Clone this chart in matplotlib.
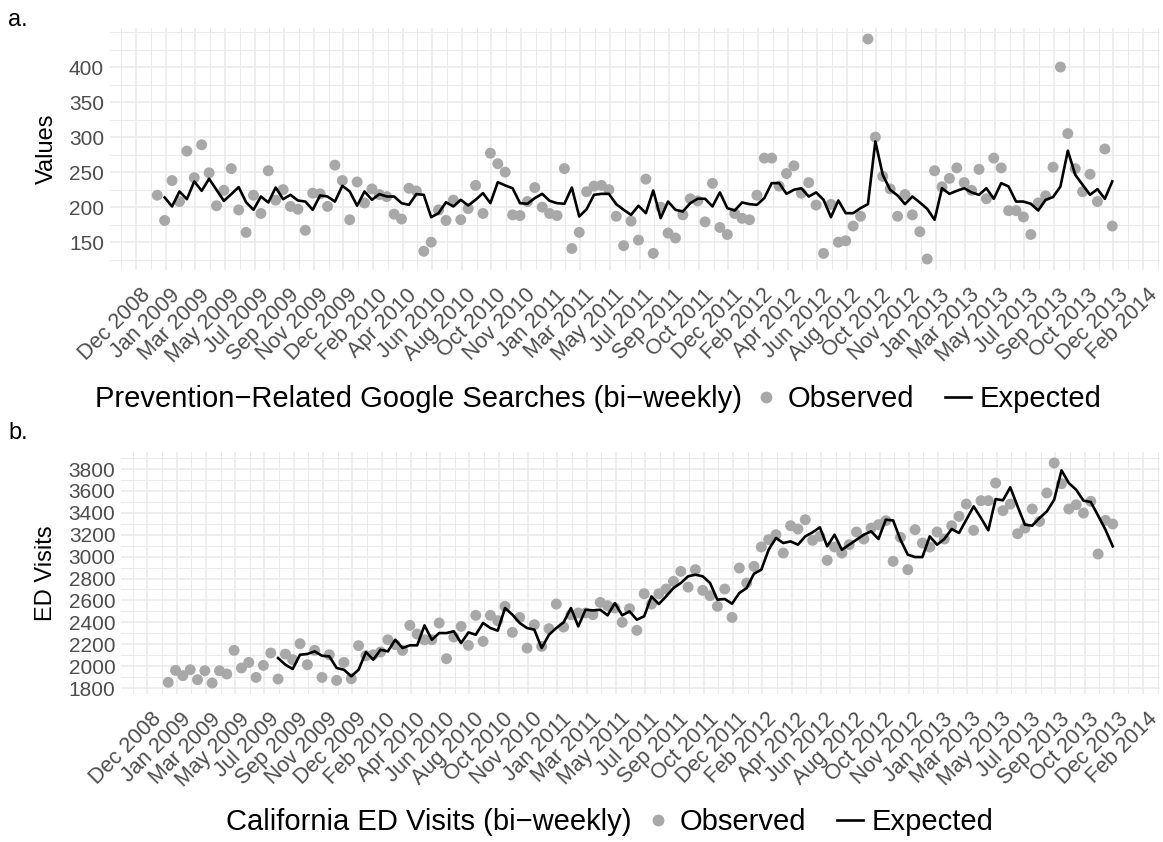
import datetime as dt
import numpy as np
import matplotlib
matplotlib.use("Agg")
import matplotlib.pyplot as plt
import matplotlib.dates as mdates
from matplotlib.lines import Line2D
from matplotlib.ticker import MultipleLocator, FixedLocator
import matplotlib.transforms as mtrans

plt.rcParams['font.family'] = ['Liberation Sans', 'DejaVu Sans']

# ---------------- data ----------------
start_date = dt.date(2009, 1, 10)
n_points = 130
dates = [start_date + dt.timedelta(days=14 * i) for i in range(n_points)]

google_observed = [217, 181, 238, 208, 280, 242, 289, 249, 202, 224, 255, 196, 164, 217, 191, 252, 210, 225, 201, 197,
                   167, 220, 219, 201, 260, 238, 182, 236, 206, 226, 218, 215, 190, 183, 227, 223, 137, 150, 196, 181,
                   210, 182, 198, 231, 191, 277, 262, 250, 189, 188, 208, 228, 200, 191, 188, 255, 141, 164, 222, 230,
                   231, 225, 187, 145, 180, 153, 240, 134, 200, 163, 156, 189, 212, 209, 179, 234, 171, 161, 191, 184,
                   182, 217, 270, 270, 230, 248, 259, 220, 235, 203, 134, 204, 150, 152, 173, 187, 440, 300, 244, 226,
                   187, 218, 189, 165, 126, 252, 229, 241, 256, 235, 224, 254, 212, 270, 256, 195, 195, 186, 161, 206,
                   216, 257, 400, 305, 255, 222, 247, 208, 283, 173]

google_expected = [np.nan, 213.8, 201, 222.4, 211.4, 236.7, 223.3, 240.5, 224.8, 209, 218.6, 228.6, 207, 196.2, 215.2,
                   206.7, 228, 211.4, 217.6, 209.5, 208, 196.2, 216.7, 215.2, 208, 230.5, 222.4, 202, 222.4, 210.5,
                   218.6, 215.2, 215.2, 205.7, 203.3, 218.6, 217.6, 185.7, 191.4, 207, 201, 210.5, 202.4, 210.5, 220,
                   205.7, 235.7, 231, 227, 205.7, 204.8, 212.9, 219, 209, 205.7, 204.8, 228, 186.7, 197.1, 217.6,
                   219, 219, 204.3, 196.2, 189, 202, 191.4, 223.8, 184.3, 208, 196.2, 193.8, 205.7, 212, 212,
                   201, 221, 198.6, 195.2, 206.7, 204.3, 203.3, 212.9, 234.3, 234.3, 219, 224.8, 227, 215.2, 221,
                   210.5, 185.7, 209.5, 191.4, 191.4, 198.6, 204.3, 293.8, 246.2, 224.8, 216.7, 204.3, 215.2, 206.7,
                   197.6, 181.9, 227, 219, 223.3, 227, 221, 217.6, 227, 211.9, 234.3, 229.5, 208, 208, 204.8,
                   195.2, 210.5, 214.3, 229.5, 280.5, 246.2, 231.9, 217.6, 225.7, 211.9, 236.7]

ed_observed = [1852, 1961, 1913, 1967, 1876, 1958, 1846, 1958, 1928, 2144, 1983, 2034, 1897, 2007, 2120, 1882, 2110,
               2059, 2205, 2013, 2144, 1897, 2104, 1870, 2034, 1885, 2187, 2095, 2104, 2129, 2241, 2196, 2144, 2372,
               2293, 2240, 2241, 2394, 2068, 2266, 2363, 2190, 2464, 2226, 2464, 2415, 2546, 2308, 2445, 2165, 2378,
               2180, 2342, 2567, 2357, 2470, 2485, 2485, 2470, 2582, 2552, 2531, 2400, 2524, 2327, 2661, 2567, 2661,
               2704, 2774, 2865, 2722, 2881, 2692, 2643, 2546, 2704, 2445, 2896, 2759, 2911, 3088, 3155, 3200, 3033,
               3282, 3252, 3337, 3149, 3185, 2966, 3088, 3033, 3109, 3225, 3161, 3261, 3292, 3328, 2957, 3176, 2881,
               3246, 3124, 3088, 3225, 3161, 3282, 3368, 3480, 3240, 3511, 3511, 3672, 3420, 3480, 3209, 3261, 3435,
               3322, 3581, 3855, 3666, 3435, 3474, 3398, 3505, 3024, 3331, 3298]

ed_expected = [np.nan] * 15 + [
    2074, 2013, 1974, 2104, 2111, 2135, 2095, 2089, 1983, 1967, 1907, 1967, 2129, 2059, 2150, 2135, 2241, 2165,
    2190, 2190, 2372, 2241, 2302, 2302, 2318, 2211, 2308, 2287, 2394, 2348, 2324, 2531, 2470, 2394, 2348, 2333,
    2165, 2287, 2348, 2400, 2531, 2363, 2515, 2509, 2515, 2464, 2576, 2464, 2500, 2424, 2455, 2637, 2567, 2637,
    2713, 2759, 2820, 2835, 2820, 2759, 2607, 2613, 2570, 2668, 2713, 2844, 2881, 3063, 3170, 3124, 3139, 3109,
    3185, 3222, 3267, 3094, 3200, 3063, 3109, 3155, 3200, 3231, 3161, 3337, 3331, 3155, 3018, 2996, 2996, 3185,
    3109, 3161, 3252, 3216, 3337, 3459, 3353, 3240, 3526, 3514, 3633, 3459, 3292, 3283, 3353, 3413, 3520, 3788,
    3672, 3611, 3511, 3499, 3374, 3246, 3094]

first_break = dt.date(2008, 12, 1)
break_step_days = 56
n_breaks = 35

# ---------------- styling ----------------
W, H = 1163, 842
fig = plt.figure(figsize=(W / 100, H / 100), dpi=100)

grid_col = '#EBEBEB'
pt_col = '#A8A8A8'
tick_col = '#4D4D4D'
tick_fs = 15
xtick_fs = 15.5
title_fs = 17
legend_fs = 21


def px_axes(left, top, right, bottom):
    return fig.add_axes([left / W, 1 - bottom / H, (right - left) / W, (bottom - top) / H])


def style_axis(ax, obs, exp, y_major, y_minor, ylabel):
    x = mdates.date2num(dates)
    ax.scatter(x, obs, s=62, color=pt_col, edgecolors='none', zorder=3)
    ax.plot(x, exp, color='black', lw=1.9, zorder=4, solid_joinstyle='round')
    # ggplot-style 5% expansion
    xr = x.max() - x.min()
    ax.set_xlim(x.min() - 0.05 * xr, x.max() + 0.05 * xr)
    yo = np.array(obs, float)
    ye = np.array(exp, float)
    ymin = np.nanmin([yo.min(), np.nanmin(ye)])
    ymax = np.nanmax([yo.max(), np.nanmax(ye)])
    yr = ymax - ymin
    ax.set_ylim(ymin - 0.05 * yr, ymax + 0.05 * yr)

    breaks = [first_break + dt.timedelta(days=break_step_days * k) for k in range(n_breaks)]
    bnum = mdates.date2num(breaks)
    minors = np.concatenate([[bnum[0] - break_step_days / 2], bnum + break_step_days / 2])
    ax.xaxis.set_major_locator(FixedLocator(bnum))
    ax.xaxis.set_minor_locator(FixedLocator(minors))
    ax.set_xticklabels([b.strftime('%b %Y') for b in breaks])
    ax.yaxis.set_major_locator(MultipleLocator(y_major))
    ax.yaxis.set_minor_locator(MultipleLocator(y_minor))

    ax.grid(which='major', color=grid_col, lw=1.2, zorder=0)
    ax.grid(which='minor', color=grid_col, lw=0.7, zorder=0)
    ax.set_axisbelow(True)
    for s in ax.spines.values():
        s.set_visible(False)
    ax.tick_params(which='both', length=0)
    ax.tick_params(axis='y', labelsize=tick_fs, labelcolor=tick_col, pad=4)
    ax.tick_params(axis='x', labelsize=xtick_fs, labelcolor=tick_col, pad=2)
    offset = mtrans.ScaledTranslation(4 / 100, -12 / 100, fig.dpi_scale_trans)
    for lab in ax.get_xticklabels():
        lab.set_rotation(45)
        lab.set_ha('right')
        lab.set_va('top')
        lab.set_rotation_mode('anchor')
        lab.set_transform(lab.get_transform() + offset)
    ax.set_ylabel(ylabel, fontsize=title_fs, labelpad=8)


ax1 = px_axes(109.5, 28, 1160, 270)
style_axis(ax1, google_observed, google_expected, 50, 25, 'Values')
ax1.set_yticks([150, 200, 250, 300, 350, 400])

ax2 = px_axes(121, 452, 1160, 694)
style_axis(ax2, ed_observed, ed_expected, 200, 100, 'ED Visits')

fig.text(8 / W, 1 - 20 / H, 'a.', fontsize=17, va='center', ha='left')
fig.text(8 / W, 1 - 433 / H, 'b.', fontsize=17, va='center', ha='left')


def add_legend(title, title_right, keys_left, cy):
    fig.text(title_right / W, 1 - (cy - 4) / H, title, fontsize=legend_fs, ha='right', va='center_baseline')
    handles = [Line2D([], [], linestyle='none', marker='o', markersize=8.5, color=pt_col, markeredgewidth=0),
               Line2D([], [], color='black', lw=1.9)]
    labels = ['Observed', 'Expected']
    fig.legend(handles, labels, ncol=2, loc='center left', bbox_to_anchor=(keys_left / W, 1 - (cy - 1) / H),
               frameon=False, fontsize=legend_fs, handlelength=0.9, handletextpad=0.3,
               columnspacing=1.05, borderpad=0, borderaxespad=0)


add_legend('Prevention\u2212Related Google Searches (bi\u2212weekly)', 742, 753, 400)
add_legend('California ED Visits (bi\u2212weekly)', 632, 645, 823)

fig.savefig('out.png', dpi=100)
